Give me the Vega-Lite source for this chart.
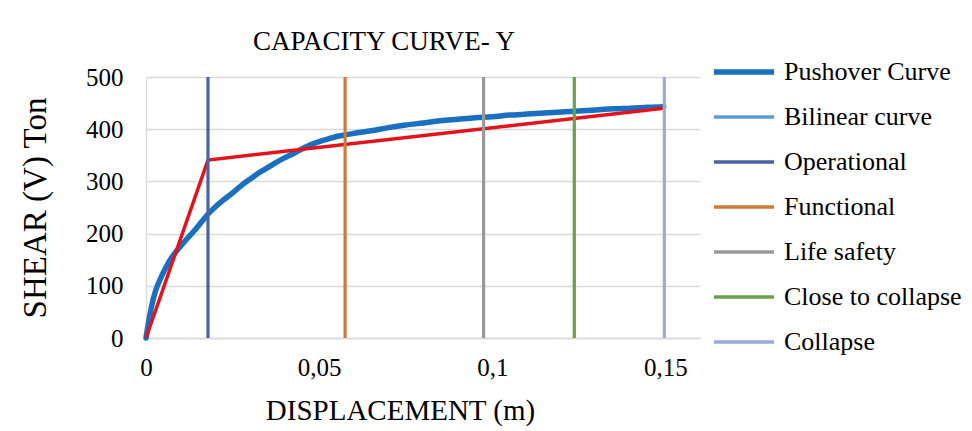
{
  "$schema": "https://vega.github.io/schema/vega-lite/v6.json",
  "width": 554,
  "height": 261,
  "autosize": {"type": "none"},
  "padding": {"left": 146, "top": 77, "right": 272, "bottom": 93},
  "background": "white",
  "config": {
    "font": "Liberation Serif",
    "view": {"stroke": null},
    "axis": {"labelFont": "Liberation Serif", "titleFont": "Liberation Serif"},
    "legend": {"labelFont": "Liberation Serif", "titleFont": "Liberation Serif"},
    "title": {"font": "Liberation Serif"}
  },
  "title": {"text": "CAPACITY CURVE- Y", "fontSize": 27, "fontWeight": "normal", "color": "#000000", "font": "Liberation Serif", "anchor": "middle", "dx": -39, "offset": 3},
  "datasets": {
    "pushover": [
      {"d": 0, "v": 0, "series": "Pushover Curve"},
      {"d": 0.001, "v": 40, "series": "Pushover Curve"},
      {"d": 0.002, "v": 72, "series": "Pushover Curve"},
      {"d": 0.003, "v": 95, "series": "Pushover Curve"},
      {"d": 0.004, "v": 111, "series": "Pushover Curve"},
      {"d": 0.0055, "v": 132, "series": "Pushover Curve"},
      {"d": 0.007, "v": 150, "series": "Pushover Curve"},
      {"d": 0.0085, "v": 164, "series": "Pushover Curve"},
      {"d": 0.01, "v": 176, "series": "Pushover Curve"},
      {"d": 0.012, "v": 191, "series": "Pushover Curve"},
      {"d": 0.014, "v": 206, "series": "Pushover Curve"},
      {"d": 0.016, "v": 222, "series": "Pushover Curve"},
      {"d": 0.018, "v": 238, "series": "Pushover Curve"},
      {"d": 0.02, "v": 251, "series": "Pushover Curve"},
      {"d": 0.0225, "v": 265, "series": "Pushover Curve"},
      {"d": 0.025, "v": 278, "series": "Pushover Curve"},
      {"d": 0.0275, "v": 292, "series": "Pushover Curve"},
      {"d": 0.03, "v": 304, "series": "Pushover Curve"},
      {"d": 0.0325, "v": 316, "series": "Pushover Curve"},
      {"d": 0.035, "v": 326, "series": "Pushover Curve"},
      {"d": 0.0375, "v": 336, "series": "Pushover Curve"},
      {"d": 0.04, "v": 345, "series": "Pushover Curve"},
      {"d": 0.0425, "v": 353, "series": "Pushover Curve"},
      {"d": 0.045, "v": 362, "series": "Pushover Curve"},
      {"d": 0.0475, "v": 370, "series": "Pushover Curve"},
      {"d": 0.05, "v": 376, "series": "Pushover Curve"},
      {"d": 0.0525, "v": 381, "series": "Pushover Curve"},
      {"d": 0.055, "v": 386, "series": "Pushover Curve"},
      {"d": 0.0575, "v": 389, "series": "Pushover Curve"},
      {"d": 0.06, "v": 392, "series": "Pushover Curve"},
      {"d": 0.065, "v": 397, "series": "Pushover Curve"},
      {"d": 0.07, "v": 403, "series": "Pushover Curve"},
      {"d": 0.075, "v": 408, "series": "Pushover Curve"},
      {"d": 0.08, "v": 412, "series": "Pushover Curve"},
      {"d": 0.085, "v": 416, "series": "Pushover Curve"},
      {"d": 0.09, "v": 419, "series": "Pushover Curve"},
      {"d": 0.095, "v": 422, "series": "Pushover Curve"},
      {"d": 0.1, "v": 424, "series": "Pushover Curve"},
      {"d": 0.105, "v": 427, "series": "Pushover Curve"},
      {"d": 0.11, "v": 429, "series": "Pushover Curve"},
      {"d": 0.115, "v": 431, "series": "Pushover Curve"},
      {"d": 0.12, "v": 433, "series": "Pushover Curve"},
      {"d": 0.125, "v": 435, "series": "Pushover Curve"},
      {"d": 0.13, "v": 437, "series": "Pushover Curve"},
      {"d": 0.135, "v": 439, "series": "Pushover Curve"},
      {"d": 0.14, "v": 440, "series": "Pushover Curve"},
      {"d": 0.145, "v": 442, "series": "Pushover Curve"},
      {"d": 0.1495, "v": 443, "series": "Pushover Curve"}
    ],
    "bilinear": [
      {"d": 0, "v": 0},
      {"d": 0.0179, "v": 341},
      {"d": 0.1495, "v": 440}
    ],
    "limits": [
      {"state": "Operational", "d": 0.0179},
      {"state": "Functional", "d": 0.0575},
      {"state": "Life safety", "d": 0.0975},
      {"state": "Close to collapse", "d": 0.1237},
      {"state": "Collapse", "d": 0.1497}
    ]
  },
  "encoding": {
    "x": {"field": "d", "type": "quantitative",
      "scale": {"domain": [0, 0.16], "nice": false, "zero": true},
      "axis": {"title": "DISPLACEMENT (m)", "values": [0, 0.05, 0.1, 0.15],
        "labelExpr": "replace(toString(datum.value), '.', ',')",
        "grid": false, "ticks": false, "domainColor": "#D9D9D9", "domainWidth": 1.3,
        "labelFontSize": 25, "labelColor": "#000000", "labelPadding": 17, "labelFont": "Liberation Serif", "labelFlush": false,
        "titleFontSize": 29, "titleFontWeight": "normal", "titleColor": "#000000", "titleFont": "Liberation Serif",
        "titleX": 254, "titlePadding": 16}}
  },
  "layer": [
    {
      "data": {"name": "pushover"},
      "mark": {"type": "line", "strokeWidth": 5.5, "strokeCap": "round", "strokeJoin": "round", "interpolate": "monotone"},
      "encoding": {
        "y": {"field": "v", "type": "quantitative",
          "scale": {"domain": [0, 500], "nice": false},
          "axis": {"title": "SHEAR (V) Ton", "values": [0, 100, 200, 300, 400, 500],
            "grid": true, "gridColor": "#D9D9D9", "gridWidth": 1.3, "ticks": false,
            "domainColor": "#D9D9D9", "domainWidth": 1.3,
            "labelFontSize": 25, "labelColor": "#000000", "labelPadding": 23, "labelFont": "Liberation Serif",
            "titleFontSize": 33, "titleFontWeight": "normal", "titleColor": "#000000", "titleFont": "Liberation Serif",
            "titlePadding": 33}},
        "color": {"field": "series", "type": "nominal",
          "scale": {"domain": ["Pushover Curve", "Bilinear curve", "Operational", "Functional", "Life safety", "Close to collapse", "Collapse"],
            "range": ["#1A6FC0", "#5B9BD5", "#4A62A8", "#D07A3A", "#999999", "#6BA04A", "#99AAD8"]},
          "legend": {"title": null, "orient": "none", "legendX": 585, "legendY": -18, "padding": 0,
            "symbolType": "M-2.5,0H2.5", "symbolSize": 576, "symbolStrokeWidth": 3.5,
            "labelFontSize": 26, "labelFont": "Liberation Serif", "labelColor": "#000000", "labelOffset": 27,
            "rowPadding": 19, "labelLimit": 300,
            "encode": {"symbols": {"update": {"strokeWidth": {"signal": "datum.value === 'Pushover Curve' ? 5.5 : 3.5"}}}}}}
      }
    },
    {
      "data": {"name": "bilinear"},
      "mark": {"type": "line", "strokeWidth": 3.5, "color": "#E3121B"},
      "encoding": {"y": {"field": "v", "type": "quantitative"}}
    },
    {
      "data": {"name": "limits"},
      "mark": {"type": "rule", "strokeWidth": 3.2},
      "encoding": {
        "color": {"field": "state", "type": "nominal"}
      }
    }
  ]
}
